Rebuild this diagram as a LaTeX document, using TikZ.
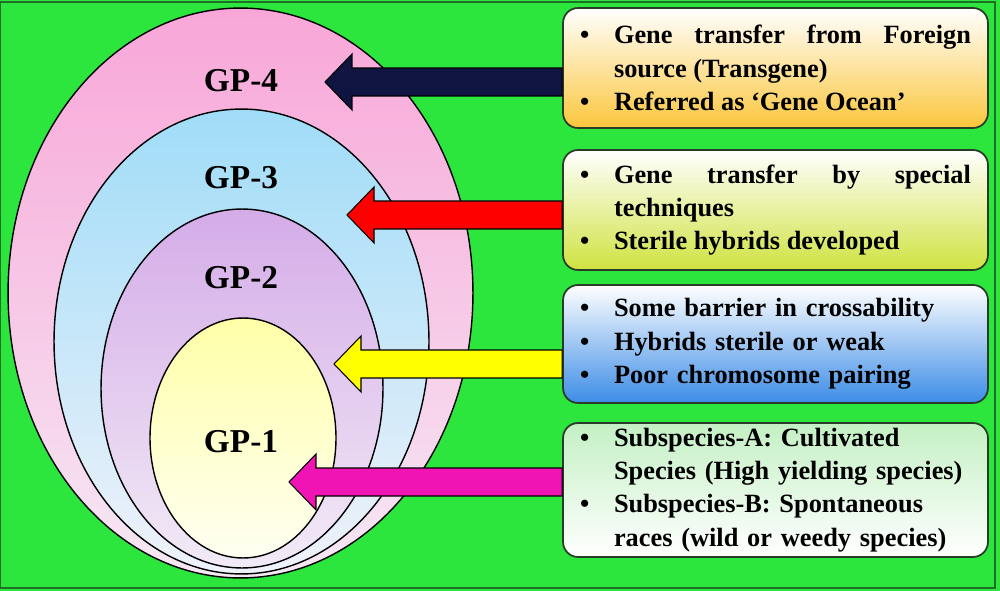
\documentclass[tikz,border=0pt]{standalone}
\usepackage{fontspec}
\setmainfont{Liberation Serif}
\usetikzlibrary{shapes,arrows,calc}

\definecolor{bggreen}{RGB}{44,230,62}
\definecolor{framegreen}{RGB}{30,110,40}
\definecolor{boxedge}{RGB}{40,60,40}
\definecolor{pinktop}{RGB}{248,166,216}
\definecolor{pinkbot}{RGB}{246,232,244}
\definecolor{bluetop}{RGB}{160,220,248}
\definecolor{bluebot}{RGB}{240,242,250}
\definecolor{lavtop}{RGB}{212,172,232}
\definecolor{lavbot}{RGB}{242,234,246}
\definecolor{yeltop}{RGB}{255,255,168}
\definecolor{yelbot}{RGB}{255,255,242}
\definecolor{navyarrow}{RGB}{16,20,64}
\definecolor{redarrow}{RGB}{255,0,0}
\definecolor{yelarrow}{RGB}{255,255,0}
\definecolor{magarrow}{RGB}{240,20,180}
\definecolor{orangebot}{RGB}{250,198,60}
\definecolor{limebot}{RGB}{208,226,64}
\definecolor{skybot}{RGB}{60,140,230}
\definecolor{minttop}{RGB}{196,240,196}

\newcommand{\bitem}[1]{\noindent\hangindent=0.68cm\hangafter=1\makebox[0.68cm][l]{\textbullet}#1\par}
\newcommand{\fatarrow}[3]{%
  \filldraw[draw=black, fill=#3, line width=0.6pt]
    (#2) -- ++(0.54cm,0.56cm) -- ++(0,-0.28cm) -- ($(#1)+(0,0.28cm)$)
    -- ($(#1)+(0,-0.28cm)$) -- ($(#2)+(0.54cm,-0.28cm)$) -- ++(0,-0.28cm) -- cycle;}

\begin{document}
\begin{tikzpicture}[x=0.02cm, y=-0.02cm]
\tikzstyle{ovalgp}=[ellipse, draw=black, line width=0.8pt, inner sep=0pt]
\tikzstyle{gplabel}=[font=\fontsize{19}{22}\selectfont\bfseries, inner sep=0pt]
\tikzstyle{infobox}=[rectangle, rounded corners=0.3cm, draw=boxedge, line width=1pt, text width=7.82cm, inner xsep=0.34cm, inner ysep=0pt, font=\fontsize{15}{19}\selectfont\bfseries]

\useasboundingbox (0,0) rectangle (1000,591);
\fill[bggreen] (0,0) rectangle (1000,591);
\draw[framegreen, line width=1pt] (0.5,2) rectangle (995,588);

\node[ovalgp, minimum width=9.3cm, minimum height=11.4cm, top color=pinktop, bottom color=pinkbot] (GP4) at (240.5,293) {};
\node[ovalgp, minimum width=7.5cm, minimum height=9.3cm, top color=bluetop, bottom color=bluebot] (GP3) at (241.5,341.5) {};
\node[ovalgp, minimum width=5.64cm, minimum height=7.18cm, top color=lavtop, bottom color=lavbot] (GP2) at (242,388.5) {};
\node[ovalgp, minimum width=3.72cm, minimum height=4.8cm, top color=yeltop, bottom color=yelbot] (GP1) at (243,438) {};

\node[gplabel] (L4) at (241,81) {GP-4};
\node[gplabel] (L3) at (241,178) {GP-3};
\node[gplabel] (L2) at (241,278) {GP-2};
\node[gplabel] (L1) at (241,442) {GP-1};

\node[infobox, minimum height=2.4cm, align=justify, top color=white, bottom color=orangebot] (B4) at (775.5,68)
  {\bitem{Gene transfer from Foreign\linebreak source (Transgene)}\bitem{Referred as ‘Gene Ocean’}};
\node[infobox, minimum height=2.4cm, align=justify, top color=white, bottom color=limebot] (B3) at (775.5,210)
  {\bitem{Gene transfer by special\linebreak techniques}\bitem{Sterile hybrids developed}};
\node[infobox, minimum height=2.36cm, align=left, top color=white, bottom color=skybot] (B2) at (775.5,344)
  {\bitem{Some barrier in crossability}\bitem{Hybrids sterile or weak}\bitem{Poor chromosome pairing}};
\node[infobox, minimum height=2.68cm, align=left, top color=minttop, bottom color=white] (B1) at (775.5,490)
  {\bitem{Subspecies-A: Cultivated\newline Species (High yielding species)}\bitem{Subspecies-B: Spontaneous\newline races (wild or weedy species)}};

\coordinate (H4) at (325,82);
\coordinate (H3) at (347,215);
\coordinate (H2) at (334,364);
\coordinate (H1) at (289,482);
\coordinate (T4) at (B4.west |- H4);
\coordinate (T3) at (B3.west |- H3);
\coordinate (T2) at (B2.west |- H2);
\coordinate (T1) at (B1.west |- H1);
\fatarrow{T4}{H4}{navyarrow}
\fatarrow{T3}{H3}{redarrow}
\fatarrow{T2}{H2}{yelarrow}
\fatarrow{T1}{H1}{magarrow}
\end{tikzpicture}
\end{document}
